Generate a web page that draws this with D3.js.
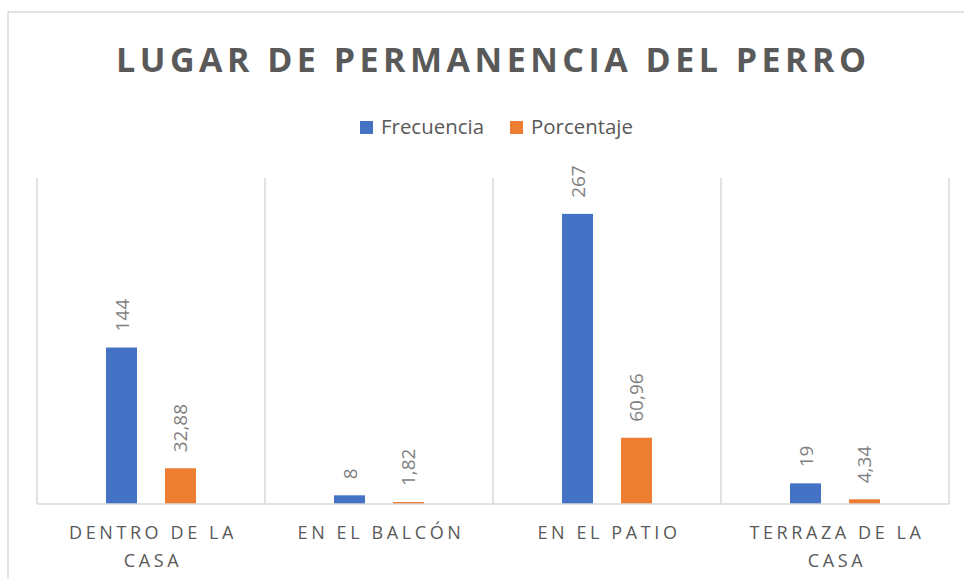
<!DOCTYPE html>
<html>
<head>
<meta charset="utf-8">
<script src="https://cdn.jsdelivr.net/npm/d3@7"></script>
<style>
  body { margin: 0; background: #fff; }
  svg { display: block; font-family: "Open Sans", "Noto Sans", sans-serif; }
</style>
</head>
<body>
<svg id="chart" width="964" height="579"></svg>
<script>
// Chart data
const categories = [["DENTRO DE LA", "CASA"], ["EN EL BALCÓN"], ["EN EL PATIO"], ["TERRAZA DE LA", "CASA"]];
const seriesNames = ["Frecuencia", "Porcentaje"];
const frecuencia = [144, 8, 267, 19];
const porcentaje = [32.88, 1.82, 60.96, 4.34];
const valueLabels = [["144", "8", "267", "19"], ["32,88", "1,82", "60,96", "4,34"]];
const colors = ["#4472C4", "#ED7D31"];

const margin = { top: 178, right: 15, bottom: 75, left: 37 };
const width = 964 - margin.left - margin.right;
const height = 579 - margin.top - margin.bottom;

const svg = d3.select("#chart");

// Outer chart border
svg.append("rect")
  .attr("x", 8).attr("y", 12)
  .attr("width", 1000).attr("height", 600)
  .attr("fill", "none")
  .attr("stroke", "#d9d9d9")
  .attr("stroke-width", 1.5);

// Title
svg.append("text")
  .attr("x", 491)
  .attr("y", 72)
  .attr("text-anchor", "middle")
  .attr("textLength", 750)
  .attr("lengthAdjust", "spacing")
  .style("font-size", "34px")
  .style("font-weight", "bold")
  .style("fill", "#595959")
  .text("LUGAR DE PERMANENCIA DEL PERRO");

// Legend
const legend = svg.append("g");
const legendPos = [360, 510];
const legendLen = [103, 102];
seriesNames.forEach((name, i) => {
  legend.append("rect")
    .attr("x", legendPos[i]).attr("y", 121)
    .attr("width", 13).attr("height", 13)
    .attr("fill", colors[i]);
  legend.append("text")
    .attr("x", legendPos[i] + 21)
    .attr("y", 134)
    .attr("textLength", legendLen[i])
    .attr("lengthAdjust", "spacingAndGlyphs")
    .style("font-size", "20px")
    .style("fill", "#595959")
    .text(name);
});

const g = svg.append("g")
  .attr("transform", `translate(${margin.left},${margin.top})`);

const xScale = d3.scaleBand()
  .domain(d3.range(categories.length))
  .range([0, width]);

const xInner = d3.scaleBand()
  .domain(d3.range(seriesNames.length))
  .range([0, xScale.bandwidth()])
  .paddingInner(0.475)
  .paddingOuter(1.17);

const yScale = d3.scaleLinear()
  .domain([0, 300])
  .range([height, 0]);

// Vertical separators
g.append("g")
  .selectAll("line")
  .data(d3.range(categories.length + 1))
  .join("line")
  .attr("x1", d => d * xScale.step())
  .attr("x2", d => d * xScale.step())
  .attr("y1", 0)
  .attr("y2", height)
  .style("stroke", "#d9d9d9")
  .style("stroke-width", 1.5);

// Bars
const series = [frecuencia, porcentaje];
const bars = [];
series.forEach((vals, s) => {
  vals.forEach((v, i) => bars.push({ s: s, i: i, v: v, label: valueLabels[s][i] }));
});

g.append("g")
  .selectAll("rect")
  .data(bars)
  .join("rect")
  .attr("x", d => xScale(d.i) + xInner(d.s))
  .attr("y", d => yScale(d.v))
  .attr("width", xInner.bandwidth())
  .attr("height", d => height - yScale(d.v))
  .attr("fill", d => colors[d.s]);

// Value labels (rotated)
g.append("g")
  .selectAll("text")
  .data(bars)
  .join("text")
  .attr("transform", d => `translate(${xScale(d.i) + xInner(d.s) + xInner.bandwidth() / 2 + 7},${yScale(d.v) - 16}) rotate(-90)`)
  .style("font-size", "19px")
  .style("fill", "#7f7f7f")
  .text(d => d.label);

// Baseline axis
g.append("line")
  .attr("x1", 0).attr("x2", width)
  .attr("y1", height).attr("y2", height)
  .style("stroke", "#d9d9d9")
  .style("stroke-width", 1.5);

// Category labels
const catLabels = g.append("g")
  .selectAll("text")
  .data(categories.map((lines, i) => ({ lines: lines, i: i })))
  .join("text")
  .attr("text-anchor", "middle")
  .style("font-size", "18px")
  .style("letter-spacing", "3.6px")
  .style("fill", "#595959");

catLabels.selectAll("tspan")
  .data(d => d.lines.map(t => ({ t: t, i: d.i })))
  .join("tspan")
  .attr("x", d => xScale(d.i) + xScale.bandwidth() / 2 + 2)
  .attr("y", (d, j) => height + 35 + j * 28)
  .text(d => d.t);
</script>
</body>
</html>
